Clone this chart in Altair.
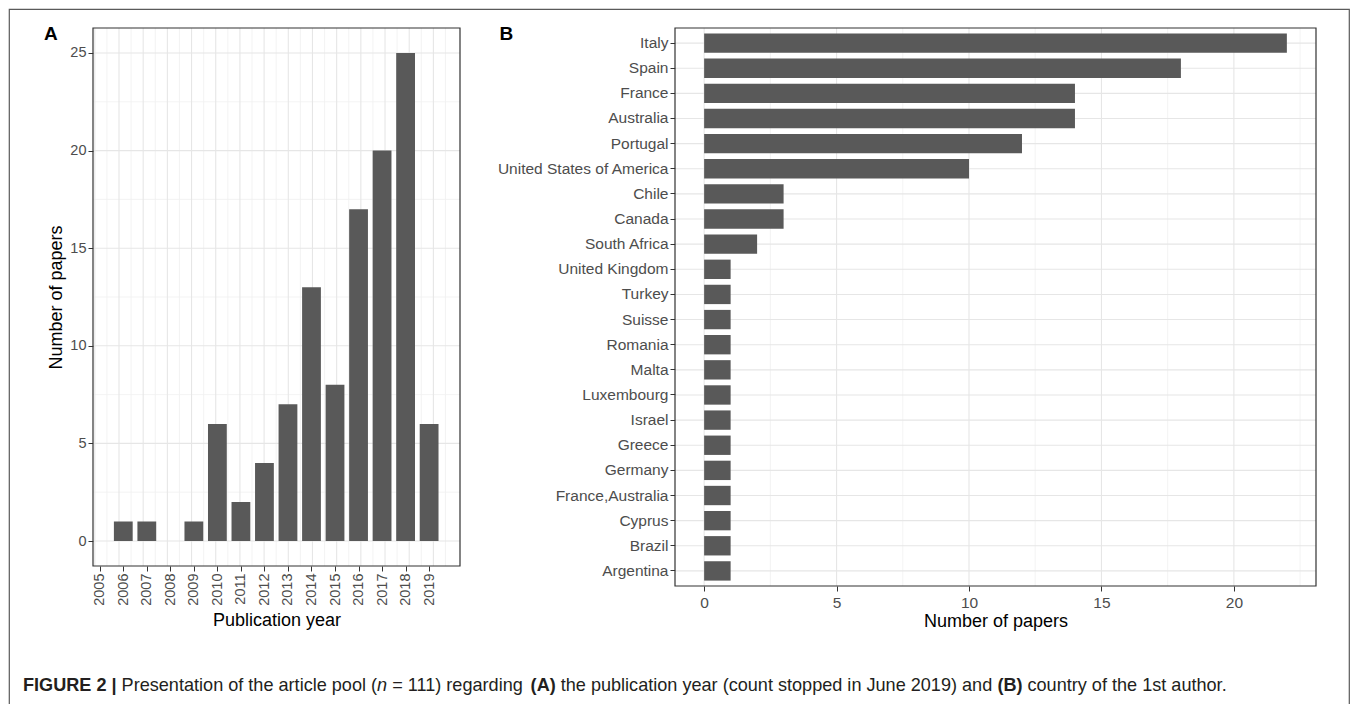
import altair as alt
import pandas as pd

# ---------------- data ----------------
years = [2006, 2007, 2008, 2009, 2010, 2011, 2012, 2013, 2014, 2015, 2016, 2017, 2018, 2019]
year_counts = [1, 1, 0, 1, 6, 2, 4, 7, 13, 8, 17, 20, 25, 6]
year_ticks = list(range(2005, 2020))
count_ticks_a = [0, 5, 10, 15, 20, 25]

countries = ["Italy", "Spain", "France", "Australia", "Portugal",
             "United States of America", "Chile", "Canada", "South Africa",
             "United Kingdom", "Turkey", "Suisse", "Romania", "Malta",
             "Luxembourg", "Israel", "Greece", "Germany", "France,Australia",
             "Cyprus", "Brazil", "Argentina"]
country_counts = [22, 18, 14, 14, 12, 10, 3, 3, 2, 1, 1, 1, 1, 1, 1, 1, 1, 1, 1, 1, 1, 1]
count_ticks_b = [0, 5, 10, 15, 20]

caption_parts = ["FIGURE 2 |", "Presentation of the article pool (", "n",
                 "= 111) regarding", "(A)",
                 "the publication year (count stopped in June 2019) and",
                 "(B)", "country of the 1st author."]
caption_weights = ["bold", "normal", "normal", "normal", "bold", "normal", "bold", "normal"]
caption_styles = ["normal", "normal", "italic", "normal", "normal", "normal", "normal", "normal"]
caption_space_before = [False, True, False, True, True, True, True, True]

# ---------------- layout ----------------
W, H = 1340, 700
FONT = "Liberation Sans"
BAR = "#595959"
GRID_MAJ = "#E6E6E6"
GRID_MIN = "#F0F0F0"
EDGE = "#333333"
LAB = "#4D4D4D"

A_X_DOMAIN = [2004.925, 2020.10]
A_Y_DOMAIN = [-1.28, 26.28]
B_X_DOMAIN = [-1.1, 23.1]
A_X_RANGE = [84, 451]
A_Y_RANGE = [557, 19]
B_X_RANGE = [666, 1307]
B_Y_RANGE = [19, 577]

sAx = alt.Scale(domain=A_X_DOMAIN, range=A_X_RANGE, nice=False, zero=False)
sAy = alt.Scale(domain=A_Y_DOMAIN, range=A_Y_RANGE, nice=False, zero=False)
sBx = alt.Scale(domain=B_X_DOMAIN, range=B_X_RANGE, nice=False, zero=False)
sBy = alt.Scale(domain=countries, range=B_Y_RANGE, paddingInner=0.23, paddingOuter=0.215)

# ---------------- panel A ----------------
dfA = pd.DataFrame({"year": years, "count": year_counts, "base": 0})

def vrules(vals, xs, ys, ydom, color, width):
    d = pd.DataFrame({"v": vals, "lo": ydom[0], "hi": ydom[1]})
    return alt.Chart(d).mark_rule(color=color, strokeWidth=width).encode(
        x=alt.X("v:Q", scale=xs, axis=None),
        y=alt.Y("lo:Q", scale=ys, axis=None),
        y2="hi:Q",
    )

def hrules(vals, xs, ys, xdom, color, width, ytype="Q"):
    d = pd.DataFrame({"v": vals, "lo": xdom[0], "hi": xdom[1]})
    return alt.Chart(d).mark_rule(color=color, strokeWidth=width).encode(
        y=alt.Y(f"v:{ytype}", scale=ys, axis=None),
        x=alt.X("lo:Q", scale=xs, axis=None),
        x2="hi:Q",
    )

a_minor_x = [y + 0.5 for y in year_ticks]
a_minor_y = [c + 2.5 for c in count_ticks_a[:-1]]

gridA = [
    vrules(a_minor_x, sAx, sAy, A_Y_DOMAIN, GRID_MIN, 0.8),
    hrules(a_minor_y, sAx, sAy, A_X_DOMAIN, GRID_MIN, 0.8),
    vrules(year_ticks, sAx, sAy, A_Y_DOMAIN, GRID_MAJ, 1.1),
    hrules(count_ticks_a, sAx, sAy, A_X_DOMAIN, GRID_MAJ, 1.1),
]

axis_common = dict(grid=False, domain=False, tickColor=EDGE, tickSize=5, tickWidth=1,
                   labelColor=LAB, labelFont=FONT, titleFont=FONT, titleColor="#000000",
                   titleFontWeight="normal", titleFontSize=18, labelFlush=False,
                   labelOverlap=False)

barsA = alt.Chart(dfA).mark_bar(color=BAR, size=18.8).encode(
    x=alt.X("year:Q", scale=sAx,
            axis=alt.Axis(values=year_ticks, format="d", labelAngle=270, orient="bottom",
                          offset=-(H - A_Y_RANGE[0]), title="Publication year",
                          labelPadding=2, titlePadding=6, labelFontSize=14.5, **axis_common)),
    y=alt.Y("count:Q", scale=sAy,
            axis=alt.Axis(values=count_ticks_a, orient="left", offset=-A_X_RANGE[0],
                          title="Number of papers", labelPadding=2, titlePadding=4,
                          labelFontSize=14.5, **axis_common)),
    y2="base:Q",
)

borderA = alt.Chart(pd.DataFrame({"x0": [A_X_DOMAIN[0]], "x1": [A_X_DOMAIN[1]],
                                  "y0": [A_Y_DOMAIN[0]], "y1": [A_Y_DOMAIN[1]]})).mark_rect(
    fill="transparent", stroke=EDGE, strokeWidth=1.2).encode(
    x=alt.X("x0:Q", scale=sAx, axis=None), x2="x1:Q",
    y=alt.Y("y0:Q", scale=sAy, axis=None), y2="y1:Q")

# ---------------- panel B ----------------
dfB = pd.DataFrame({"country": countries, "n": country_counts, "base": 0})

b_minor_x = [c + 2.5 for c in count_ticks_b]

def vrulesB(vals, color, width):
    d = pd.DataFrame({"v": vals})
    return alt.Chart(d).mark_rule(color=color, strokeWidth=width).encode(
        x=alt.X("v:Q", scale=sBx, axis=None),
        y=alt.value(B_Y_RANGE[0]),
        y2=alt.value(B_Y_RANGE[1]),
    )

gridB = [
    vrulesB(b_minor_x, GRID_MIN, 0.8),
    vrulesB(count_ticks_b, GRID_MAJ, 1.1),
    hrules(countries, sBx, sBy, B_X_DOMAIN, GRID_MAJ, 1.1, ytype="N"),
]

barsB = alt.Chart(dfB).mark_bar(color=BAR).encode(
    x=alt.X("n:Q", scale=sBx,
            axis=alt.Axis(values=count_ticks_b, orient="bottom", offset=-(H - B_Y_RANGE[1]),
                          title="Number of papers", labelPadding=4, titlePadding=2,
                          labelFontSize=15.5, **axis_common)),
    x2="base:Q",
    y=alt.Y("country:N", scale=sBy, sort=countries,
            axis=alt.Axis(orient="left", offset=-B_X_RANGE[0], title=None,
                          labelPadding=2, labelFontSize=15.5, labelLimit=400, **axis_common)),
)

borderB = alt.Chart(pd.DataFrame({"x0": [B_X_DOMAIN[0]], "x1": [B_X_DOMAIN[1]]})).mark_rect(
    fill="transparent", stroke=EDGE, strokeWidth=1.2).encode(
    x=alt.X("x0:Q", scale=sBx, axis=None), x2="x1:Q",
    y=alt.value(B_Y_RANGE[0]), y2=alt.value(B_Y_RANGE[1]))

# ---------------- texts ----------------
# Arial / Liberation Sans advance widths (1/1000 em) used to chain caption pieces
_REG = {' ': 278, '(': 333, ')': 333, '=': 584, '.': 278, '|': 260, ',': 278,
        'A': 667, 'B': 667, 'J': 500, 'P': 667, 'F': 611, 'I': 278, 'G': 778,
        'U': 722, 'R': 722, 'E': 667,
        'a': 556, 'b': 556, 'c': 500, 'd': 556, 'e': 556, 'f': 278, 'g': 556,
        'h': 556, 'i': 222, 'j': 222, 'k': 500, 'l': 222, 'm': 833, 'n': 556,
        'o': 556, 'p': 556, 'q': 556, 'r': 333, 's': 500, 't': 278, 'u': 556,
        'v': 500, 'w': 722, 'x': 500, 'y': 500, 'z': 500}
_BOLD = dict(_REG)
_BOLD.update({'|': 280, 'A': 722, 'B': 722, 'F': 611, 'I': 278, 'G': 778,
              'U': 722, 'R': 722, 'E': 667})
for _d in range(10):
    _REG[str(_d)] = 556
    _BOLD[str(_d)] = 556


def text_width(s, size, weight):
    tab = _BOLD if weight == "bold" else _REG
    return sum(tab.get(ch, 556) for ch in s) * size / 1000.0


def label(txt, x, y, size, weight="normal", style="normal", color="#000000"):
    return alt.Chart(pd.DataFrame({"t": [txt]})).mark_text(
        align="left", baseline="alphabetic", font=FONT, fontSize=size,
        fontWeight=weight, fontStyle=style, color=color).encode(
        text="t:N", x=alt.value(x), y=alt.value(y))

CAP_Y = 681.5
CAP_FS = 18.1
CAP_X0 = 14

texts = [label("A", 35, 30.5, 19, "bold"), label("B", 490.5, 30.5, 19, "bold")]
xpos = CAP_X0
for t, w, s, sp in zip(caption_parts, caption_weights, caption_styles, caption_space_before):
    if sp:
        xpos += text_width(" ", CAP_FS, "normal")
    texts.append(label(t, round(xpos, 1), CAP_Y, CAP_FS, w, s, "#231F20"))
    xpos += text_width(t, CAP_FS, w)

layers = gridA + [barsA, borderA] + gridB + [barsB, borderB] + texts

chart = alt.layer(*layers).resolve_scale(x="independent", y="independent").properties(
    width=W, height=H,
    padding={"left": 1, "top": 1, "right": 1, "bottom": 1},
    autosize=alt.AutoSizeParams(type="none"),
    background="white",
).configure_view(stroke="#5A5A5A", strokeWidth=1.2, fill="white")

chart.save("out.html", embed_options={"renderer": "svg", "actions": False})
